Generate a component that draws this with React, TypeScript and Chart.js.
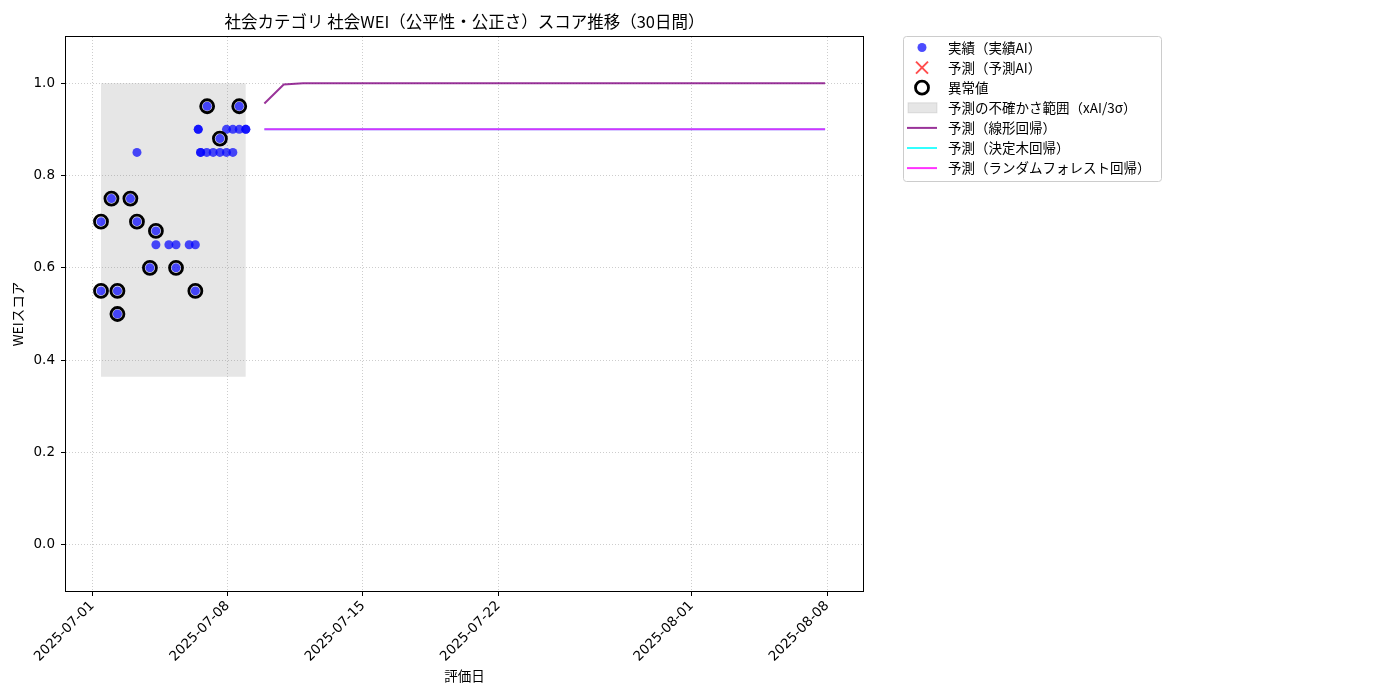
import React, { useEffect, useRef } from "react";
import { Chart, registerables } from "chart.js";

Chart.register(...registerables);

const FONT = '"Noto Sans CJK JP", "Noto Sans", sans-serif';
const TICK_FONT = '"DejaVu Sans", sans-serif';
const START_UTC = Date.UTC(2025, 6, 1);

const chartTitle = "社会カテゴリ 社会WEI（公平性・公正さ）スコア推移（30日間）";

// x values are days since 2025-07-01
const actualDays = [
  0.45, 0.45, 0.99, 1.3, 1.3, 1.97, 2.31, 2.31, 2.98, 3.29, 3.29, 3.96, 4.33, 4.33,
  5.01, 5.33, 5.33, 5.48, 5.48, 5.6, 5.6, 5.92, 5.94, 6.25, 6.6, 6.6, 6.94, 6.94,
  7.27, 7.27, 7.6, 7.6, 7.94, 7.94,
];
const actualScores = [
  0.7, 0.55, 0.75, 0.55, 0.5, 0.75, 0.85, 0.7, 0.6, 0.68, 0.65, 0.65, 0.65, 0.6,
  0.65, 0.65, 0.55, 0.9, 0.9, 0.85, 0.85, 0.85, 0.95, 0.85, 0.85, 0.88, 0.85, 0.9,
  0.85, 0.9, 0.9, 0.95, 0.9, 0.9,
];

const anomalyDays = [0.45, 0.45, 0.99, 1.3, 1.3, 1.97, 2.31, 2.98, 3.29, 4.33, 5.33, 5.94, 6.6, 7.6];
const anomalyScores = [0.7, 0.55, 0.75, 0.55, 0.5, 0.75, 0.7, 0.6, 0.68, 0.6, 0.55, 0.95, 0.88, 0.95];

const bandDays = [0.45, 7.94];
const bandUpper = [1.0, 1.0];
const bandLower = [0.364, 0.364];

const forecastDays = [
  8.9, 9.9, 10.9, 11.9, 12.9, 13.9, 14.9, 15.9, 16.9, 17.9, 18.9, 19.9, 20.9, 21.9, 22.9,
  23.9, 24.9, 25.9, 26.9, 27.9, 28.9, 29.9, 30.9, 31.9, 32.9, 33.9, 34.9, 35.9, 36.9, 37.9,
];
const linearForecast = [
  0.956, 0.997, 1.0, 1.0, 1.0, 1.0, 1.0, 1.0, 1.0, 1.0, 1.0, 1.0, 1.0, 1.0, 1.0,
  1.0, 1.0, 1.0, 1.0, 1.0, 1.0, 1.0, 1.0, 1.0, 1.0, 1.0, 1.0, 1.0, 1.0, 1.0,
];
const treeForecast = [
  0.9, 0.9, 0.9, 0.9, 0.9, 0.9, 0.9, 0.9, 0.9, 0.9, 0.9, 0.9, 0.9, 0.9, 0.9,
  0.9, 0.9, 0.9, 0.9, 0.9, 0.9, 0.9, 0.9, 0.9, 0.9, 0.9, 0.9, 0.9, 0.9, 0.9,
];
const forestForecast = [
  0.9, 0.9, 0.9, 0.9, 0.9, 0.9, 0.9, 0.9, 0.9, 0.9, 0.9, 0.9, 0.9, 0.9, 0.9,
  0.9, 0.9, 0.9, 0.9, 0.9, 0.9, 0.9, 0.9, 0.9, 0.9, 0.9, 0.9, 0.9, 0.9, 0.9,
];

const xTickDays = [0, 7, 14, 21, 31, 38];
const yTicks = [0, 0.2, 0.4, 0.6, 0.8, 1.0];

const legendLabels = [
  "実績（実績AI）",
  "予測（予測AI）",
  "異常値",
  "予測の不確かさ範囲（xAI/3σ）",
  "予測（線形回帰）",
  "予測（決定木回帰）",
  "予測（ランダムフォレスト回帰）",
];

const BLUE = "rgba(0,0,255,0.7)";
const RED = "rgba(255,0,0,0.7)";
const BAND = "rgba(128,128,128,0.2)";
const PURPLE = "rgba(128,0,128,0.8)";
const CYAN = "rgba(0,255,255,0.8)";
const MAGENTA = "rgba(255,0,255,0.8)";

const pts = (xs: number[], ys: number[]) => xs.map((x, i) => ({ x, y: ys[i] }));

const dayLabel = (d: number) =>
  new Date(START_UTC + d * 86400000).toISOString().slice(0, 10);

// title, full axes frame and the legend box drawn like matplotlib
const decorPlugin = {
  id: "decor",
  afterDraw(chart: any) {
    const { ctx, chartArea: a } = chart;
    ctx.save();
    ctx.strokeStyle = "#000";
    ctx.lineWidth = 1;
    ctx.strokeRect(Math.round(a.left) - 0.5, Math.round(a.top) - 0.5, Math.round(a.right - a.left) + 1, Math.round(a.bottom - a.top) + 1);

    ctx.fillStyle = "#000";
    ctx.font = `16.5px ${FONT}`;
    ctx.textAlign = "center";
    ctx.textBaseline = "middle";
    ctx.fillText(chartTitle, (a.left + a.right) / 2, 22);

    // legend
    const lx = 903.5, ly = 36.5, lw = 258, lh = 145;
    ctx.fillStyle = "rgba(255,255,255,0.8)";
    ctx.strokeStyle = "#cccccc";
    ctx.beginPath();
    ctx.roundRect(lx, ly, lw, lh, 3);
    ctx.fill();
    ctx.stroke();

    const mx = 922;
    legendLabels.forEach((label, i) => {
      const y = 47.5 + i * 20.1;
      if (i === 0) {
        ctx.fillStyle = BLUE;
        ctx.beginPath();
        ctx.arc(mx, y, 4.5, 0, Math.PI * 2);
        ctx.fill();
      } else if (i === 1) {
        ctx.strokeStyle = RED;
        ctx.lineWidth = 2;
        ctx.beginPath();
        ctx.moveTo(mx - 6, y - 6);
        ctx.lineTo(mx + 6, y + 6);
        ctx.moveTo(mx + 6, y - 6);
        ctx.lineTo(mx - 6, y + 6);
        ctx.stroke();
      } else if (i === 2) {
        ctx.strokeStyle = "#000";
        ctx.lineWidth = 2.8;
        ctx.beginPath();
        ctx.arc(mx, y, 6.5, 0, Math.PI * 2);
        ctx.stroke();
      } else if (i === 3) {
        ctx.fillStyle = BAND;
        ctx.fillRect(908, y - 5, 29, 10);
        ctx.strokeStyle = BAND;
        ctx.lineWidth = 1;
        ctx.strokeRect(908, y - 5, 29, 10);
      } else {
        ctx.strokeStyle = [PURPLE, CYAN, MAGENTA][i - 4];
        ctx.lineWidth = 2;
        ctx.beginPath();
        ctx.moveTo(907, y);
        ctx.lineTo(937, y);
        ctx.stroke();
      }
      ctx.fillStyle = "#000";
      ctx.font = `13.5px ${FONT}`;
      ctx.textAlign = "left";
      ctx.textBaseline = "middle";
      ctx.fillText(label, 948, y);
    });
    ctx.restore();
  },
};

export default function App() {
  const canvasRef = useRef<HTMLCanvasElement | null>(null);
  const chartRef = useRef<Chart | null>(null);

  useEffect(() => {
    if (!canvasRef.current) return;
    const ctx = canvasRef.current.getContext("2d");
    if (!ctx) return;
    if (chartRef.current) chartRef.current.destroy();

    const grid = {
      color: "rgba(176,176,176,0.8)",
      lineWidth: 0.8,
      tickColor: "#000",
      tickLength: 5,
      tickWidth: 1,
    };

    chartRef.current = new Chart(ctx, {
      type: "scatter",
      data: {
        datasets: [
          {
            label: "異常値",
            data: pts(anomalyDays, anomalyScores),
            pointRadius: 6.5,
            pointBorderWidth: 2.8,
            pointBorderColor: "#000",
            pointBackgroundColor: "rgba(0,0,0,0)",
            order: 1,
          },
          {
            label: "実績（実績AI）",
            data: pts(actualDays, actualScores),
            pointRadius: 4.5,
            pointBorderWidth: 0,
            pointBackgroundColor: BLUE,
            order: 2,
          },
          {
            label: "予測（ランダムフォレスト回帰）",
            data: pts(forecastDays, forestForecast),
            showLine: true,
            borderColor: MAGENTA,
            borderWidth: 2,
            pointRadius: 0,
            order: 3,
          },
          {
            label: "予測（決定木回帰）",
            data: pts(forecastDays, treeForecast),
            showLine: true,
            borderColor: CYAN,
            borderWidth: 2,
            pointRadius: 0,
            order: 4,
          },
          {
            label: "予測（線形回帰）",
            data: pts(forecastDays, linearForecast),
            showLine: true,
            borderColor: PURPLE,
            borderWidth: 2,
            pointRadius: 0,
            order: 5,
          },
          {
            label: "予測の不確かさ範囲（xAI/3σ）",
            data: pts(bandDays, bandUpper),
            showLine: true,
            borderWidth: 0,
            pointRadius: 0,
            backgroundColor: BAND,
            fill: "+1",
            order: 6,
          },
          {
            label: "band-lower",
            data: pts(bandDays, bandLower),
            showLine: true,
            borderWidth: 0,
            pointRadius: 0,
            order: 7,
          },
        ],
      },
      options: {
        responsive: false,
        animation: false,
        layout: { padding: { top: 37, right: 537, left: 0, bottom: 0 } },
        plugins: {
          legend: { display: false },
          title: { display: false },
          tooltip: { enabled: false },
        },
        scales: {
          x: {
            type: "linear",
            min: -1.36,
            max: 39.86,
            afterBuildTicks: (s: any) => {
              s.ticks = xTickDays.map((v) => ({ value: v }));
            },
            afterFit: (s: any) => {
              s.height = 109;
            },
            ticks: {
              autoSkip: false,
              maxRotation: 45,
              minRotation: 45,
              padding: 2,
              color: "#000",
              font: { family: TICK_FONT, size: 13.5 },
              callback: (v: any) => dayLabel(Number(v)),
            },
            grid,
            border: { display: false, dash: [1, 2] },
            title: {
              display: true,
              text: "評価日",
              color: "#000",
              font: { family: FONT, size: 13.5 },
              padding: { top: 0, bottom: 16 },
            },
          },
          y: {
            type: "linear",
            min: -0.1,
            max: 1.1,
            afterBuildTicks: (s: any) => {
              s.ticks = yTicks.map((v) => ({ value: v }));
            },
            afterFit: (s: any) => {
              s.width = 66;
            },
            ticks: {
              padding: 6,
              color: "#000",
              font: { family: TICK_FONT, size: 13.5 },
              callback: (v: any) => Number(v).toFixed(1),
            },
            grid,
            border: { display: false, dash: [1, 2] },
            title: {
              display: true,
              text: "WEIスコア",
              color: "#000",
              font: { family: FONT, size: 13.5 },
              padding: { top: 10, bottom: 0 },
            },
          },
        },
      },
      plugins: [decorPlugin],
    } as any);

    return () => {
      if (chartRef.current) {
        chartRef.current.destroy();
        chartRef.current = null;
      }
    };
  }, []);

  return (
    <div style={{ position: "fixed", left: 0, top: 0, width: 1400, height: 700, background: "#fff" }}>
      <canvas ref={canvasRef} width={1400} height={700} />
    </div>
  );
}
